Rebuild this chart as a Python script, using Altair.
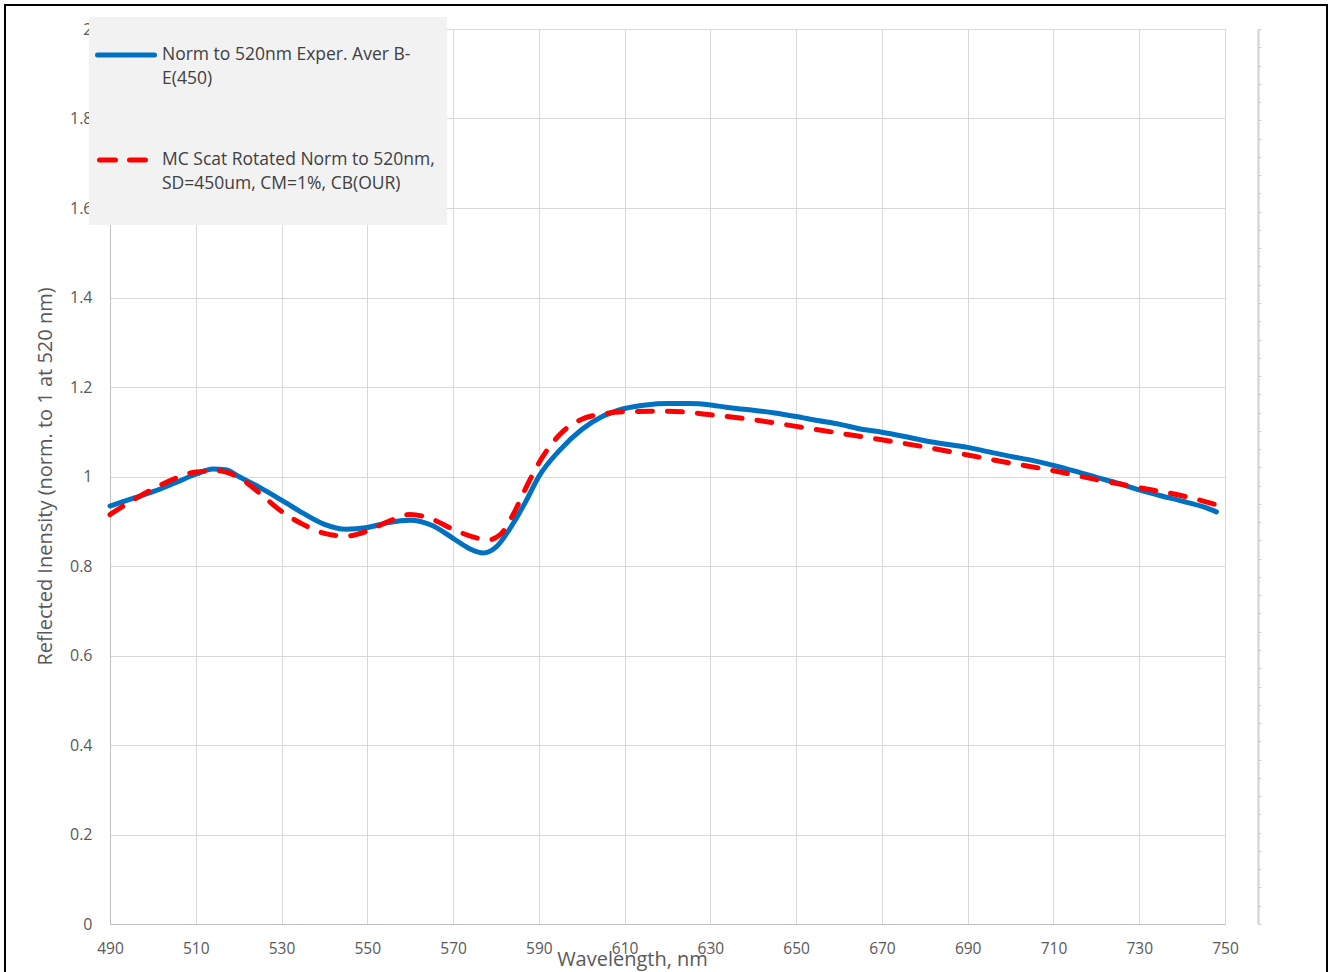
import altair as alt
import pandas as pd

# ---- data ----
blue_wl = [490, 495, 500, 505, 510, 514, 517, 520, 525, 530, 535, 540, 545, 550, 555, 560, 565, 570, 574, 577,
           580, 584, 587, 590, 595, 600, 605, 610, 615, 620, 625, 630, 635, 640, 645, 650, 655, 660, 665, 670,
           675, 680, 685, 690, 695, 700, 705, 710, 715, 720, 725, 730, 735, 740, 745, 748]
blue_val = [0.934, 0.950, 0.966, 0.985, 1.005, 1.017, 1.015, 1.000, 0.975, 0.947, 0.918, 0.893, 0.882, 0.886,
            0.897, 0.902, 0.891, 0.862, 0.838, 0.829, 0.842, 0.895, 0.945, 1.000, 1.060, 1.105, 1.135, 1.152,
            1.160, 1.163, 1.163, 1.160, 1.153, 1.148, 1.142, 1.134, 1.125, 1.117, 1.106, 1.099, 1.090, 1.080,
            1.072, 1.065, 1.055, 1.045, 1.036, 1.025, 1.012, 0.998, 0.985, 0.970, 0.957, 0.945, 0.932, 0.921]

red_wl = [490, 495, 500, 505, 510, 515, 520, 525, 530, 535, 540, 545, 550, 555, 560, 565, 570, 575, 578, 581,
          584, 587, 590, 595, 600, 605, 610, 620, 630, 640, 650, 660, 670, 680, 690, 700, 710, 720, 730, 740, 748]
red_val = [0.915, 0.945, 0.972, 0.995, 1.010, 1.013, 0.998, 0.962, 0.922, 0.893, 0.873, 0.867, 0.878, 0.900,
           0.915, 0.905, 0.882, 0.864, 0.858, 0.870, 0.915, 0.975, 1.030, 1.095, 1.128, 1.140, 1.145, 1.146,
           1.138, 1.127, 1.112, 1.097, 1.082, 1.066, 1.048, 1.030, 1.013, 0.993, 0.975, 0.957, 0.937]

x_ticks = list(range(490, 751, 20))
y_ticks = [0, 0.2, 0.4, 0.6, 0.8, 1, 1.2, 1.4, 1.6, 1.8, 2]
minor_ticks = list(range(0, 50))

blue_name = ["Norm to 520nm Exper. Aver B-", "E(450)"]
red_name = ["MC Scat Rotated Norm to 520nm,", "SD=450um, CM=1%, CB(OUR)"]

FONT = "Open Sans"
GRAY = "#595959"
GRID = "#d9d9d9"

blue_df = pd.DataFrame({"wl": blue_wl, "v": blue_val})
red_df = pd.DataFrame({"wl": red_wl, "v": red_val})

x_enc = alt.X("wl:Q", scale=alt.Scale(domain=[490, 750], nice=False, zero=False),
              axis=alt.Axis(values=x_ticks, title="Wavelength, nm", grid=True, gridColor=GRID,
                            domainColor="#bfbfbf", ticks=False, labelPadding=17, labelFlush=False,
                            labelFontSize=15.5, labelColor=GRAY, labelFont=FONT,
                            titleFont=FONT, titleFontSize=20, titleColor=GRAY, titleFontWeight="normal",
                            titleX=522, titleY=41, titleBaseline="alphabetic"))
y_enc = alt.Y("v:Q", scale=alt.Scale(domain=[0, 2], nice=False),
              axis=alt.Axis(values=y_ticks, format="~g", title="Reflected Inensity (norm. to 1 at 520 nm)",
                            grid=True, gridColor=GRID, domainColor="#bfbfbf", ticks=False, labelPadding=18,
                            labelFlush=False,
                            labelFontSize=16, labelColor=GRAY, labelFont=FONT,
                            titleFont=FONT, titleFontSize=20, titleColor=GRAY, titleFontWeight="normal",
                            titleX=-55, titleY=447, titleBaseline="bottom"))

blue = alt.Chart(blue_df).mark_line(color="#0070C0", strokeWidth=5, strokeCap="round",
                                    interpolate="monotone").encode(x=x_enc, y=y_enc)
red = alt.Chart(red_df).mark_line(color="#FF0000", strokeWidth=5, strokeCap="round", strokeDash=[15, 15],
                                  interpolate="monotone").encode(x="wl:Q", y="v:Q")
curves = alt.layer(blue, red)

# secondary (empty) right axis
sec = alt.Chart(pd.DataFrame({"m": [0]})).mark_point(opacity=0).encode(
    y=alt.Y("m:Q", scale=alt.Scale(domain=[0, 49], nice=False),
            axis=alt.Axis(orient="right", offset=33, labels=False, grid=False, values=minor_ticks,
                          tickSize=3, tickColor="#d0d0d0", domainColor="#d0d0d0", domainWidth=2,
                          title=None)))

one = pd.DataFrame({"a": [0]})

# legend box
leg_box = alt.Chart(one).mark_rect(fill="#f2f2f2").encode(
    x=alt.value(-21), x2=alt.value(337), y=alt.value(-12), y2=alt.value(196))
leg_blue = alt.Chart(one).mark_rule(color="#0070C0", strokeWidth=5, strokeCap="round").encode(
    x=alt.value(-12.5), x2=alt.value(44.5), y=alt.value(26))
leg_red = alt.Chart(one).mark_rule(color="#FF0000", strokeWidth=5, strokeCap="round", strokeDash=[16, 14]).encode(
    x=alt.value(-10.5), x2=alt.value(35.5), y=alt.value(131))


def leg_text(t, y):
    return alt.Chart(one).mark_text(align="left", baseline="middle", font=FONT, fontSize=17.5,
                                    color="#404040").encode(x=alt.value(52), y=alt.value(y), text=alt.value(t))


texts = [leg_text(blue_name[0], 26), leg_text(blue_name[1], 50),
         leg_text(red_name[0], 131), leg_text(red_name[1], 155)]

# outer black frame
frame = alt.Chart(one).mark_rect(fill=None, stroke="black", strokeWidth=2).encode(
    x=alt.value(-105), x2=alt.value(1217), y=alt.value(-24), y2=alt.value(960))

chart = alt.layer(curves, sec, leg_box, leg_blue, leg_red, *texts, frame).resolve_scale(
    y="independent"
).properties(
    width=1115, height=895,
    padding={"left": 110, "top": 29, "right": 105, "bottom": 48},
    autosize=alt.AutoSizeParams(type="none"),
    background="white",
).configure_view(stroke=None)

chart.save("out.html", embed_options={"renderer": "svg", "actions": False})
